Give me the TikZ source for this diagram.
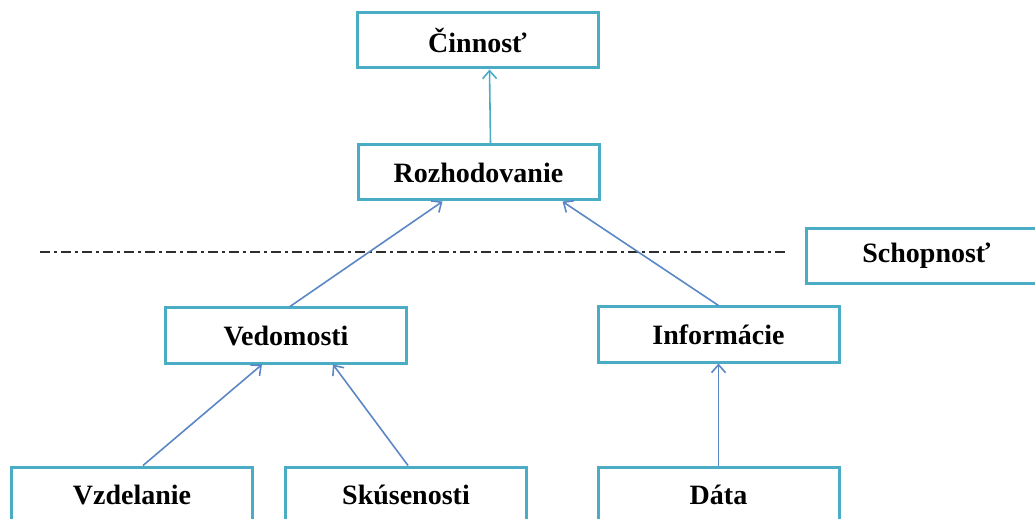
\documentclass[tikz,border=0pt]{standalone}
\usepackage{fontspec}
\setmainfont{Liberation Serif}
\usetikzlibrary{arrows.meta,positioning}
\definecolor{frame}{HTML}{4BACC6}
\definecolor{link}{HTML}{5B87C5}
\definecolor{sep}{HTML}{2E2E2E}
\tikzset{
  box/.style={draw=frame,line width=1.5pt,fill=white,align=center,font=\bfseries\fontsize{14}{16}\selectfont,inner sep=0pt,minimum width=120.5pt,minimum height=27.5pt},
  arr/.style={-{Straight Barb[length=4pt,width=7pt]},line width=0.8pt,color=link},
  arrtop/.style={arr,color=frame},
  sepline/.style={line width=1.3pt,color=sep,dash pattern=on 5pt off 2pt on 1.5pt off 2pt}}
\begin{document}
\begin{tikzpicture}
\useasboundingbox (0,0) rectangle (517.5pt,-259.5pt);
\node[box] (cin) at (238.75pt,-20.25pt) {Činnosť};
\node[box,below=37pt of cin,xshift=0.5pt] (rozh) {Rozhodovanie};
\node[box,below=52.5pt of rozh,xshift=-96.25pt] (ved) {Vedomosti};
\node[box,below=52pt of rozh,xshift=120pt] (inf) {Informácie};
\node[box,below=50.5pt of ved,xshift=-77pt] (vzd) {Vzdelanie};
\node[box,right=15pt of vzd] (sku) {Skúsenosti};
\node[box,below=51pt of inf] (data) {Dáta};
\node[box,right=102pt of rozh,yshift=-41.75pt] (schop) {Schopnosť};
\coordinate (sepL) at (20pt,-126pt);
\coordinate (sepR) at (392.5pt,-126pt);
\draw[sepline] (sepL) -- (sepR);
\draw[arrtop] ([xshift=6pt]rozh.north) -- ([xshift=6pt]cin.south);
\draw[arr] ([xshift=2pt]ved.north) -- ([xshift=-18pt]rozh.south);
\draw[arr] (inf.north) -- ([xshift=42pt]rozh.south);
\draw[arr] ([xshift=5.5pt]vzd.north) -- ([xshift=-12pt]ved.south);
\draw[arr] ([xshift=1pt]sku.north) -- ([xshift=23.5pt]ved.south);
\draw[arr] (data) -- (inf);
\end{tikzpicture}
\end{document}
